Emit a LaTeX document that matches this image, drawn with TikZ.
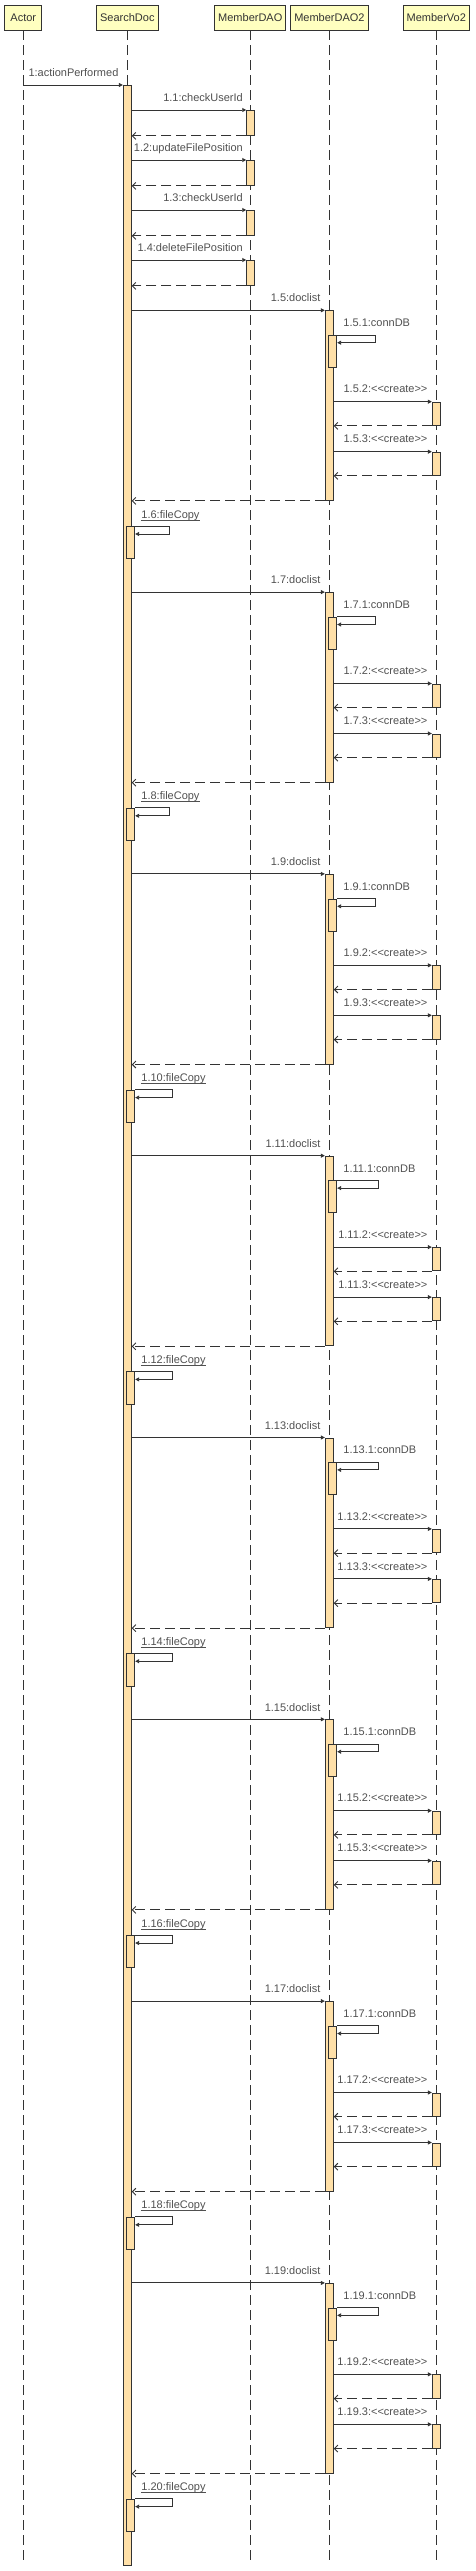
\documentclass[tikz,border=0pt]{standalone}
\usepackage{fontspec}
\setmainfont{Liberation Sans}
\usetikzlibrary{arrows.meta}
\definecolor{ink}{HTML}{333333}
\definecolor{inksoft}{HTML}{505050}
\definecolor{headfill}{HTML}{FFFFC0}
\definecolor{actfill}{HTML}{FFE0A8}

\begin{document}
\begin{tikzpicture}[
    x=1pt, y=-1pt,
    line width=0.9pt,
    head/.style={rectangle, draw=ink, fill=headfill, minimum height=25pt,
                 minimum width=37pt, inner xsep=3.5pt, inner ysep=0pt,
                 text=ink, font=\fontsize{11}{13}\selectfont},
    life/.style={draw=ink, dash pattern=on 10pt off 5pt},
    act/.style={rectangle, draw=ink, fill=actfill, minimum width=8pt, inner sep=0pt},
    lbl/.style={inner sep=0pt, text=inksoft, font=\fontsize{11}{13}\selectfont},
    call/.style={draw=ink, -{Triangle[length=4pt,width=4pt]}},
    ret/.style={draw=ink, dash pattern=on 10pt off 5pt,
                -{Straight Barb[length=3.5pt,width=7pt]}},
  ]
\useasboundingbox (0,0) rectangle (475,2571);

% object heads
\node[head] (actor) at (23.3,17.5) {Actor};
\node[head] (search) at (127.3,17.5) {SearchDoc};
\node[head] (dao) at (250.3,17.5) {MemberDAO};
\node[head] (dao2) at (329.4,17.5) {MemberDAO2};
\node[head] (vo) at (436.3,17.5) {MemberVo2};

% lifelines
\coordinate (bottom) at (0,2563);
\foreach \h in {actor,search,dao,dao2,vo}
  \draw[life] (\h.south) -- (\h.south |- bottom);

% SearchDoc activation
\node[act, minimum height=2480pt, anchor=north] (sd) at (127.3,85) {};
\draw[call] (actor |- sd.north) -- (sd.north west);
\node[lbl, anchor=base east] at ([shift={(-4,-8.3)}]sd.north west) {1:actionPerformed};

% calls to MemberDAO
\foreach \i/\y/\t in {1/110/checkUserId, 2/160/updateFilePosition,
                      3/210/checkUserId, 4/260/deleteFilePosition} {
  \node[act, minimum height=25pt, anchor=north] (d\i) at (250.7,\y) {};
  \draw[call] (sd.east |- d\i.north) -- (d\i.north west);
  \draw[ret] (d\i.south west) -- (sd.east |- d\i.south);
  \node[lbl, anchor=base east] at ([shift={(-3,-8.3)}]d\i.north west) {1.\i:\t};
}

% doclist / fileCopy rounds
\foreach \n [count=\k from 0] in {5,7,...,19} {
  \pgfmathsetmacro\Y{310.3+281.8*\k}
  \pgfmathtruncatemacro\m{\n+1}
  \pgfmathsetmacro\wa{\n>9 ? 41 : 38}
  \pgfmathsetmacro\wb{\m>9 ? 37 : 34}
  % doclist
  \node[act, minimum height=189.7pt, anchor=north] (b\n) at (329.3,\Y) {};
  \draw[call] (sd.east |- b\n.north) -- (b\n.north west);
  \node[lbl, anchor=base east] at ([shift={(-4,-8.3)}]b\n.north west) {1.\n:doclist};
  % connDB
  \node[act, minimum height=32pt, anchor=north] (c\n) at (332.7,\Y+24.7) {};
  \draw[call] (c\n.north east) -- ++(\wa,0) -- ++(0,7.7) -- ([yshift=-7.7pt]c\n.north east);
  \node[lbl, anchor=base west] at ([shift={(5.8,-8.3)}]c\n.north east) {1.\n.1:connDB};
  % create
  \node[act, minimum height=23.3pt, anchor=north] (v\n) at (436.3,\Y+91.4) {};
  \draw[call] (b\n.east |- v\n.north) -- (v\n.north west);
  \draw[ret] (v\n.south west) -- (b\n.east |- v\n.south);
  \node[lbl, anchor=base east] at ([shift={(-4,-8.8)}]v\n.north west)
    {1.\n.2:<\kern0pt<create>\kern0pt>};
  \node[act, minimum height=23.3pt, anchor=north] (u\n) at (436.3,\Y+141.4) {};
  \draw[call] (b\n.east |- u\n.north) -- (u\n.north west);
  \draw[ret] (u\n.south west) -- (b\n.east |- u\n.south);
  \node[lbl, anchor=base east] at ([shift={(-4,-8.8)}]u\n.north west)
    {1.\n.3:<\kern0pt<create>\kern0pt>};
  \draw[ret] (b\n.south west) -- (sd.east |- b\n.south);
  % fileCopy
  \node[act, minimum height=32.3pt, anchor=north] (f\n) at (130.7,\Y+215.7) {};
  \draw[call] (f\n.north east) -- ++(\wb,0) -- ++(0,8) -- ([yshift=-8pt]f\n.north east);
  \node[lbl, anchor=base west] (fl\n) at ([shift={(5.8,-8)}]f\n.north east) {1.\m:fileCopy};
  \draw[inksoft, line width=0.7pt] ([yshift=-2pt]fl\n.base west) -- ([yshift=-2pt]fl\n.base east);
}

\end{tikzpicture}
\end{document}
